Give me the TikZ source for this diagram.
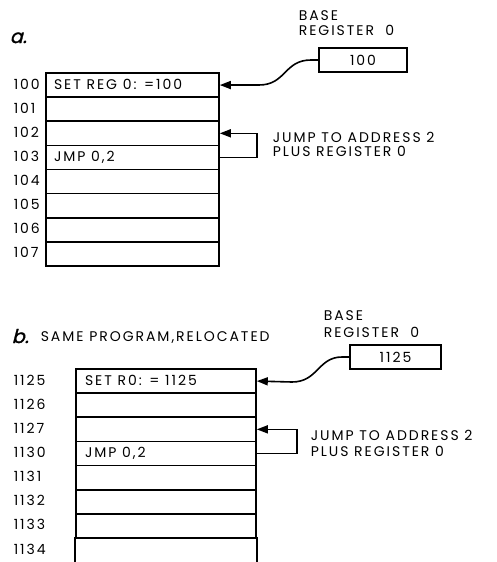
\documentclass[tikz,border=0pt]{standalone}
\usepackage{fontspec}
\setmainfont{Poppins}
\newfontfamily\lett[LetterSpace=14]{Poppins}
\newfontfamily\slantf[FakeSlant=0.25,FakeBold=1.5]{Poppins}
\usetikzlibrary{arrows.meta}
\begin{document}
\begin{tikzpicture}[x=1pt,y=-1pt,
  line width=1.6pt,
  txt/.style={inner sep=0pt, font=\lett\fontsize{14}{15}\selectfont, text height=8pt, text depth=0pt},
  cella/.style={draw, minimum width=173pt, minimum height=24.125pt, inner sep=0pt},
  cellb/.style={draw, minimum width=180pt, minimum height=24.14pt, inner sep=0pt},
  reg/.style={draw, minimum height=24pt, inner sep=0pt, font=\lett\fontsize{14}{15}\selectfont},
  arr/.style={-{Triangle[length=11pt,width=8pt]}, line width=1.6pt},
  ttl/.style={inner sep=0pt, font=\slantf\fontsize{19}{20}\selectfont, anchor=base west}
]
\useasboundingbox (0,0) rectangle (497,562);
% ---------- part a ----------
\node[ttl] (ta) at (9,43) {a.};
\foreach \i/\lab in {0/100,1/101,2/102,3/103,4/104,5/105,6/106,7/107}{
  \node[cella] (a\i) at (132.5,{85.06+24.125*\i}) {};
  \node[txt, anchor=west] (la\i) at (13,{85.06+24.125*\i}) {\lab};
}
\node[txt, anchor=west] (ca0) at ([xshift=8pt]a0.west) {SET REG 0: =100};
\node[txt, anchor=west] (ca3) at ([xshift=8pt]a3.west) {JMP 0,2};
\node[reg, minimum width=88pt] (rega) at (363,60) {100};
\node[txt, anchor=base west] (basea) at (298,20) {BASE};
\node[txt, anchor=base west] (rla) at (298,35) {REGISTER \ 0};
\coordinate (ka) at (311,60);
\coordinate (kb) at (259,85);
\draw[arr] (rega.west) -- (ka) .. controls (284,60) and (286,85) .. (kb) -- (a0.east);
\draw[arr] (a3.east) -- ++(37,0) |- (a2.east);
\node[txt, anchor=base west] (ja1) at (272,142) {JUMP TO ADDRESS 2};
\node[txt, anchor=base west] (ja2) at (272,156) {PLUS REGISTER 0};
% ---------- part b ----------
\node[ttl] (tb) at (11,343) {b.};
\node[txt, anchor=base west] (tbt) at (40,341) {SAME PROGRAM,RELOCATED};
\foreach \i/\lab in {0/1125,1/1126,2/1127,3/1130,4/1131,5/1132,6/1133}{
  \node[cellb] (b\i) at (166,{381.07+24.14*\i}) {};
  \node[txt, anchor=west] (lb\i) at (13,{381.07+24.14*\i}) {\lab};
}
\node[minimum width=180pt, minimum height=24pt, inner sep=0pt] (b7) at (166,550) {};
\node[txt, anchor=west] (lb7) at (13,550) {1134};
\draw (b7.north west) -- (b7.south west);
\draw (b7.north east) -- (b7.south east);
\node[txt, anchor=west] (cb0) at ([xshift=9pt]b0.west) {SET R0: = 1125};
\node[txt, anchor=west] (cb3) at ([xshift=9pt]b3.west) {JMP 0,2};
\node[reg, minimum width=91pt] (regb) at (395.5,357) {1125};
\node[txt, anchor=base west] (baseb) at (323,320) {BASE};
\node[txt, anchor=base west] (rlb) at (323,337) {REGISTER \ 0};
\coordinate (kc) at (342,357);
\coordinate (kd) at (292,382);
\draw[arr] (regb.west) -- (kc) .. controls (318,357) and (318,382) .. (kd) -- (b0.east);
\draw[arr] (b3.east) -- ++(40,0) |- (b2.east);
\node[txt, anchor=base west] (jb1) at (310,440) {JUMP TO ADDRESS 2};
\node[txt, anchor=base west] (jb2) at (310,456) {PLUS REGISTER 0};
\end{tikzpicture}
\end{document}
